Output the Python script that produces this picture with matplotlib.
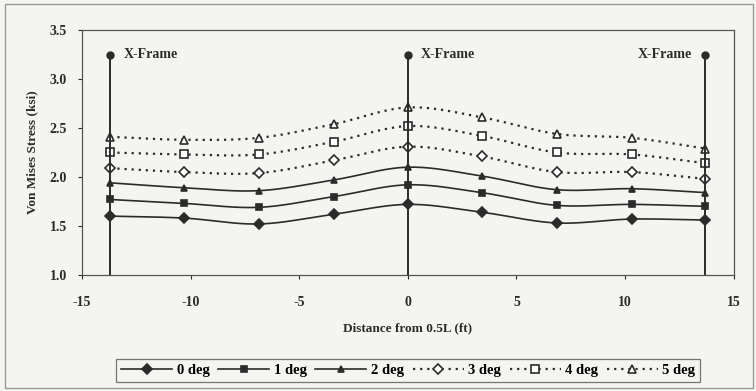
import numpy as np
import matplotlib.pyplot as plt
from matplotlib.patches import Rectangle

# distance from mid-span (ft) and von Mises stress (ksi) per skew angle
dist = [-13.7, -10.3, -6.85, -3.4, 0.0, 3.4, 6.85, 10.3, 13.7]
s0 = [1.60, 1.58, 1.52, 1.62, 1.72, 1.64, 1.53, 1.57, 1.56]
s1 = [1.77, 1.73, 1.69, 1.80, 1.92, 1.84, 1.71, 1.72, 1.70]
s2 = [1.94, 1.89, 1.86, 1.97, 2.10, 2.01, 1.87, 1.88, 1.84]
s3 = [2.09, 2.05, 2.04, 2.17, 2.31, 2.21, 2.05, 2.05, 1.98]
s4 = [2.25, 2.23, 2.23, 2.36, 2.52, 2.42, 2.25, 2.23, 2.14]
s5 = [2.41, 2.38, 2.40, 2.54, 2.71, 2.61, 2.44, 2.40, 2.29]
labels = ['0 deg', '1 deg', '2 deg', '3 deg', '4 deg', '5 deg']

xframe_x = [-13.7, 0.0, 13.7]
xframe_top = 3.25

plt.rcParams['font.family'] = ['Liberation Serif', 'DejaVu Serif']
plt.rcParams['font.weight'] = 'bold'
plt.rcParams['axes.labelweight'] = 'bold'
plt.rcParams['axes.unicode_minus'] = False

ink = '#2b2b2b'
bg = '#f4f4f1'


def smooth(x, y, n=20):
    # Catmull-Rom curve through the points, like a spreadsheet "smoothed line"
    x = np.asarray(x, float)
    y = np.asarray(y, float)
    px = np.concatenate([[2 * x[0] - x[1]], x, [2 * x[-1] - x[-2]]])
    py = np.concatenate([[2 * y[0] - y[1]], y, [2 * y[-1] - y[-2]]])
    xs, ys = [], []
    t = np.linspace(0, 1, n, endpoint=False)
    for i in range(1, len(px) - 2):
        for p, out in ((px, xs), (py, ys)):
            p0, p1, p2, p3 = p[i - 1], p[i], p[i + 1], p[i + 2]
            out.extend(0.5 * (2 * p1 + (-p0 + p2) * t
                              + (2 * p0 - 5 * p1 + 4 * p2 - p3) * t**2
                              + (-p0 + 3 * p1 - 3 * p2 + p3) * t**3))
    xs.append(x[-1])
    ys.append(y[-1])
    return xs, ys


fig = plt.figure(figsize=(7.56, 3.91), dpi=100, facecolor=bg)
ax = fig.add_axes([0.1085, 0.297, 0.862, 0.626], facecolor=bg)

series = [s0, s1, s2, s3, s4, s5]
markers = ['D', 's', '^', 'D', 's', '^']
msizes = [5, 4.5, 5, 5.5, 6, 6]
handles = []
for k, (ys, m, ms) in enumerate(zip(series, markers, msizes)):
    dotted = k >= 3
    ls = (0, (1, 2.2)) if dotted else '-'
    lw = 1.6 if dotted else 1.2
    sx, sy = smooth(dist, ys)
    ax.plot(sx, sy, color=ink, lw=lw, ls=ls, zorder=2)
    ax.plot(dist, ys, ls='none', marker=m, ms=ms, mec=ink, mew=1.2,
            mfc='white' if dotted else ink, zorder=3)
    h, = ax.plot([], [], color=ink, lw=lw, ls=ls, marker=m, ms=ms, mec=ink,
                 mew=1.2, mfc='white' if dotted else ink)
    handles.append(h)

# X-frame locations
for i, xf in enumerate(xframe_x):
    ax.plot([xf, xf], [1.0, xframe_top], color=ink, lw=1.4, zorder=4)
    ax.plot(xf, xframe_top, 'o', color=ink, ms=5, zorder=4)
    if i < 2:
        ax.text(xf + 0.6, xframe_top, 'X-Frame', ha='left', va='center',
                fontsize=10, color=ink)
    else:
        ax.text(xf - 0.6, xframe_top, 'X-Frame', ha='right', va='center',
                fontsize=10, color=ink)

ax.set_xlim(-15, 15)
ax.set_ylim(1.0, 3.5)
ax.set_xticks([-15, -10, -5, 0, 5, 10, 15])
ax.set_yticks([1.0, 1.5, 2.0, 2.5, 3.0, 3.5])
ax.set_yticklabels(['1.0', '1.5', '2.0', '2.5', '3.0', '3.5'])
ax.tick_params(labelsize=10, colors=ink, length=3, width=0.8, direction='out')
ax.tick_params(axis='x', pad=12)
ax.tick_params(axis='y', pad=8)
for sp in ax.spines.values():
    sp.set_color('#555555')
    sp.set_linewidth(0.9)

ax.set_xlabel('Distance from 0.5L (ft)', fontsize=9.5, color=ink, labelpad=10)
ax.set_ylabel('Von Mises Stress (ksi)', fontsize=9.5, color=ink, labelpad=8)

leg = fig.legend(handles, labels, loc='center', bbox_to_anchor=(0.54, 0.052),
                 ncol=6, fontsize=10.5, frameon=True, fancybox=False,
                 handlelength=3.5, handletextpad=0.3, columnspacing=0.6,
                 borderpad=0.35, edgecolor='#555555')
leg.get_frame().set_facecolor(bg)
leg.get_frame().set_linewidth(0.9)

# outer chart border
fig.patches.append(Rectangle((0.006, 0.008), 0.99, 0.982, transform=fig.transFigure,
                             fill=False, edgecolor='#999999', lw=1.0))

fig.savefig('out.png', dpi=100, facecolor=bg)
